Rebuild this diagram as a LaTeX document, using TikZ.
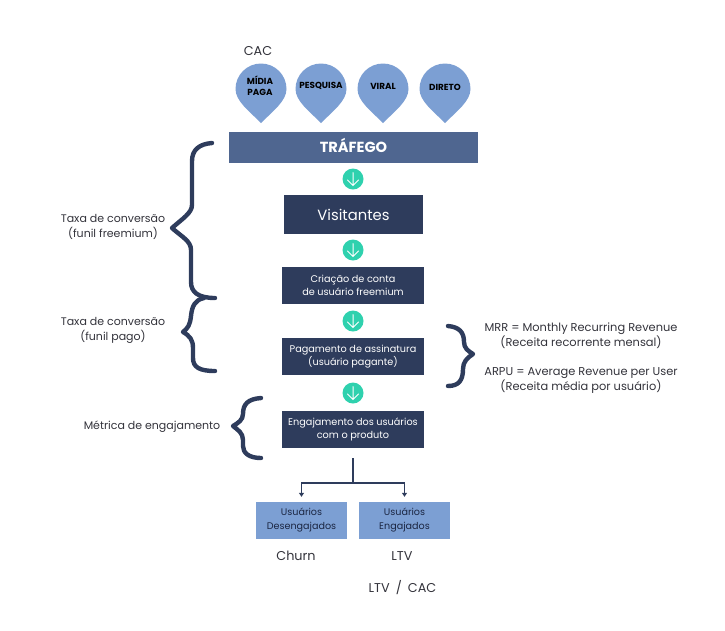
\documentclass[tikz,border=0pt]{standalone}
\usepackage{fontspec}
\setmainfont{Poppins}
\usetikzlibrary{arrows.meta}
\definecolor{dark}{HTML}{2E3C5C}
\definecolor{deep}{HTML}{1B2642}
\definecolor{mid}{HTML}{4F6690}
\definecolor{pale}{HTML}{7C9FD3}
\definecolor{teal}{HTML}{2FD1AE}
\definecolor{ink}{HTML}{33333B}
\tikzset{
  x=1pt,y=-1pt,
  box/.style={fill=dark,text=white,inner sep=0pt,align=center,minimum width=142pt,minimum height=37pt,font=\fontsize{9.7}{13.6}\selectfont},
  pale box/.style={fill=pale,text=deep,inner sep=0pt,align=center,minimum width=91pt,minimum height=37pt,font=\fontsize{9.6}{14}\selectfont},
  pin label/.style={text=black,align=center,inner sep=0pt,font=\bfseries\fontsize{8.8}{11}\selectfont},
  pin/.style={fill=pale,draw=none},
  note/.style={text=ink,align=center,inner sep=0pt,font=\fontsize{11}{15}\selectfont},
  right note/.style={text=ink,align=center,inner sep=0pt,font=\fontsize{11.4}{15}\selectfont},
  big note/.style={text=ink,inner sep=0pt,font=\fontsize{12.8}{15}\selectfont},
  brace line/.style={draw=dark,line width=4.4pt,line cap=round,line join=round},
  roundel/.style={circle,fill=teal,minimum size=21pt,inner sep=0pt},
  link/.style={draw=dark,line width=1.2pt},
}
\newcommand{\pinshape}[1]{\path[pin] (#1-25.5,89) arc[start angle=180,end angle=360,radius=25.5] .. controls (#1+25.5,101) and (#1+12,111) .. (#1,123) .. controls (#1-12,111) and (#1-25.5,101) .. (#1-25.5,89) -- cycle;}
\newcommand{\downarrowin}[1]{\draw[white,line width=1pt,line cap=round,line join=round] ([yshift=6.5pt]#1.center) -- ([yshift=-6.5pt]#1.center) ([xshift=-5.5pt,yshift=-1pt]#1.center) -- ([yshift=-6.5pt]#1.center) -- ([xshift=5.5pt,yshift=-1pt]#1.center);}
\begin{document}
\begin{tikzpicture}
\useasboundingbox (0,0) rectangle (725,630);
\node[big note] (cac) at (258,51) {CAC};
\pinshape{261}\pinshape{321}\pinshape{383}\pinshape{445}
\node[pin label] (p1) at (260,86) {MÍDIA\\PAGA};
\node[pin label] (p2) at (321,86) {PESQUISA};
\node[pin label] (p3) at (383,86) {VIRAL};
\node[pin label] (p4) at (445,87) {DIRETO};
\node[fill=mid,text=white,minimum width=249pt,minimum height=31pt,inner sep=0pt,font=\bfseries\fontsize{14.6}{15}\selectfont] (traf) at (353.5,147.5) {\raisebox{4.5pt}{TRÁFEGO}};
\node[box,minimum width=139pt,minimum height=39pt,font=\fontsize{14.8}{16}\selectfont] (vis) at (353.5,214.5) {\raisebox{-4.5pt}{Visitantes}};
\node[box] (cri) at (353,285.5) {Criação de conta\\de usuário freemium};
\node[box] (pag) at (353,356.5) {\raisebox{-1pt}{Pagamento de assinatura}\\\raisebox{-1pt}{(usuário pagante)}};
\node[box] (eng) at (353,429.5) {\raisebox{-1pt}{Engajamento dos usuários}\\com o produto};
\node[pale box] (des) at (301.5,520.5) {\raisebox{-2pt}{Usuários}\\\raisebox{-2pt}{Desengajados}};
\node[pale box] (enj) at (404.5,520.5) {\raisebox{-2pt}{Usuários}\\\raisebox{-2pt}{Engajados}};
\node[roundel] (a1) at (353,179) {};
\node[roundel] (a2) at (353,250) {};
\node[roundel] (a3) at (353,321) {};
\node[roundel] (a4) at (353,393) {};
\downarrowin{a1}\downarrowin{a2}\downarrowin{a3}\downarrowin{a4}
\coordinate (stem) at (353,458);
\coordinate (fork) at (353,483);
\draw[link] (stem) -- (fork);
\draw[link,-{Triangle[length=4pt,width=5pt]},shorten >=5pt] (fork) -| (des.north);
\draw[link,-{Triangle[length=4pt,width=5pt]},shorten >=5pt] (fork) -| (enj.north);
\path[brace line] (212,143) .. controls (199,144) and (192,150) .. (192,161) -- (192,205) .. controls (192,213) and (182,219) .. (172,228) .. controls (182,237) and (191,241) .. (191,250) -- (191,282) .. controls (191,292) and (198,298) .. (215,298);
\path[brace line] (204,298) .. controls (195,300) and (192,306) .. (191,316) .. controls (190,325) and (188,328) .. (183,332) .. controls (190,336) and (193,340) .. (193,348) -- (193,358) .. controls (193,367) and (199,371) .. (215,371);
\path[brace line] (261,398) .. controls (248,399) and (243,404) .. (243,414) .. controls (243,420) and (238,423) .. (233,426) .. controls (238,430) and (243,433) .. (243,440) -- (243,446) .. controls (243,453) and (249,458) .. (261,458);
\path[brace line] (448,326) .. controls (459,327) and (464,332) .. (464,342) .. controls (464,348) and (468,351) .. (473,354) .. controls (467,358) and (463,362) .. (463,369) .. controls (463,380) and (459,386) .. (448,386);
\node[note] (n1) at (113,226.5) {Taxa de conversão\\(funil freemium)};
\node[note] (n2) at (113,330) {Taxa de conversão\\(funil pago)};
\node[note] (n3) at (152,427) {Métrica de engajamento};
\node[right note] (n4) at (581,336) {MRR = Monthly Recurring Revenue\\(Receita recorrente mensal)};
\node[right note] (n5) at (581,380) {ARPU = Average Revenue per User\\(Receita média por usuário)};
\node[big note] (churn) at (296,556) {Churn};
\node[big note] (ltv) at (402,556) {LTV};
\node[big note] (ratio) at (402.5,588) {\spaceskip=6pt LTV / CAC};
\end{tikzpicture}
\end{document}
